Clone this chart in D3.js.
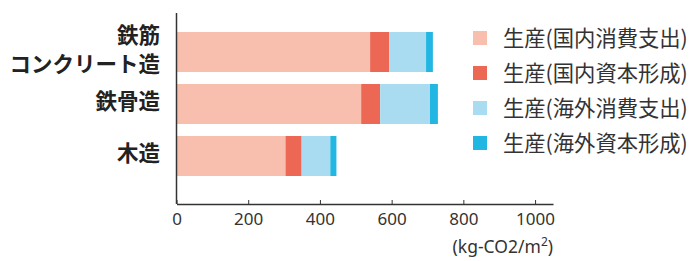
<!DOCTYPE html>
<html>
<head>
<meta charset="utf-8">
<script src="https://cdn.jsdelivr.net/npm/d3@7"></script>
<style>
  body { margin: 0; background: #fff; }
  svg { display: block; }
</style>
</head>
<body>
<script>
// categories (top to bottom); RC label split in two lines
const categories = ["鉄筋\nコンクリート造", "鉄骨造", "木造"];
const seriesNames = ["生産(国内消費支出)", "生産(国内資本形成)", "生産(海外消費支出)", "生産(海外資本形成)"];
const domesticConsumption = [540, 515, 304];
const domesticCapital = [53, 53, 45];
const overseasConsumption = [103, 139, 80];
const overseasCapital = [19, 22, 17];
const xTicks = [0, 200, 400, 600, 800, 1000];
const unitLabel = "(kg-CO2/m";

const colors = ["#f9bfae", "#ec6754", "#a9dcf0", "#22b6e3"];

const width = 695, height = 261;

// build rows for the stack
const rows = categories.map((c, i) => ({
  cat: c,
  [seriesNames[0]]: domesticConsumption[i],
  [seriesNames[1]]: domesticCapital[i],
  [seriesNames[2]]: overseasConsumption[i],
  [seriesNames[3]]: overseasCapital[i]
}));

const svg = d3.select("body").append("svg")
    .attr("width", width)
    .attr("height", height);

const x = d3.scaleLinear()
    .domain([0, 1050])
    .range([176.5, 553]);

const y = d3.scaleBand()
    .domain(categories)
    .range([26, 182])
    .paddingInner(12 / 52)
    .paddingOuter(6 / 52);

const z = d3.scaleOrdinal()
    .domain(seriesNames)
    .range(colors);

// Draw the stacked bars
svg.append("g")
  .selectAll("g")
  .data(d3.stack().keys(seriesNames)(rows))
  .join("g")
    .attr("fill", d => z(d.key))
  .selectAll("rect")
  .data(d => d)
  .join("rect")
    .attr("x", d => x(d[0]))
    .attr("width", d => x(d[1]) - x(d[0]))
    .attr("y", d => y(d.data.cat))
    .attr("height", y.bandwidth());

// x axis, ticks pointing up
const xAxis = svg.append("g")
    .attr("transform", "translate(0,204)")
    .call(d3.axisBottom(x)
      .tickValues(xTicks)
      .tickFormat(d3.format("d"))
      .tickSizeInner(-4)
      .tickSizeOuter(0)
      .tickPadding(9));
xAxis.select(".domain").attr("stroke", "#333").attr("stroke-width", 1.5);
xAxis.selectAll(".tick line").attr("stroke", "#333");
xAxis.selectAll(".tick text")
    .attr("fill", "#333")
    .style("font", "17px 'Noto Sans', sans-serif");

// y axis line
svg.append("line")
    .attr("x1", x(0)).attr("x2", x(0))
    .attr("y1", 13).attr("y2", 204)
    .attr("stroke", "#333")
    .attr("stroke-width", 1.5);

// category labels, one text per line
const labelLines = [];
categories.forEach(d => {
  const lines = d.split("\n");
  const cy = y(d) + y.bandwidth() / 2 - 2.5;
  lines.forEach((l, i) => labelLines.push({ text: l, y: cy + (i - (lines.length - 1) / 2) * 29 }));
});
svg.append("g")
  .selectAll("text")
  .data(labelLines)
  .join("text")
    .attr("x", 160)
    .attr("y", d => d.y)
    .attr("dy", "0.36em")
    .attr("text-anchor", "end")
    .attr("fill", "#222")
    .style("font", "bold 21.5px 'Noto Sans CJK JP', sans-serif")
    .text(d => d.text);

// unit label
const unit = svg.append("text")
    .attr("x", 553)
    .attr("y", 253)
    .attr("text-anchor", "end")
    .attr("fill", "#333")
    .style("font", "17.5px 'Noto Sans', sans-serif");
unit.append("tspan").text(unitLabel);
unit.append("tspan").attr("dy", -7).style("font-size", "12px").text("2");
unit.append("tspan").attr("dy", 7).text(")");

// legend
const legend = svg.append("g")
  .selectAll("g")
  .data(seriesNames)
  .join("g")
    .attr("transform", (d, i) => `translate(473,${31 + i * 35})`);
legend.append("rect")
    .attr("width", 14)
    .attr("height", 14)
    .attr("fill", z);
legend.append("text")
    .attr("x", 30)
    .attr("y", 7)
    .attr("dy", "0.36em")
    .attr("fill", "#333")
    .style("font", "21.3px 'Noto Sans CJK JP', sans-serif")
    .text(d => d);
</script>
</body>
</html>
